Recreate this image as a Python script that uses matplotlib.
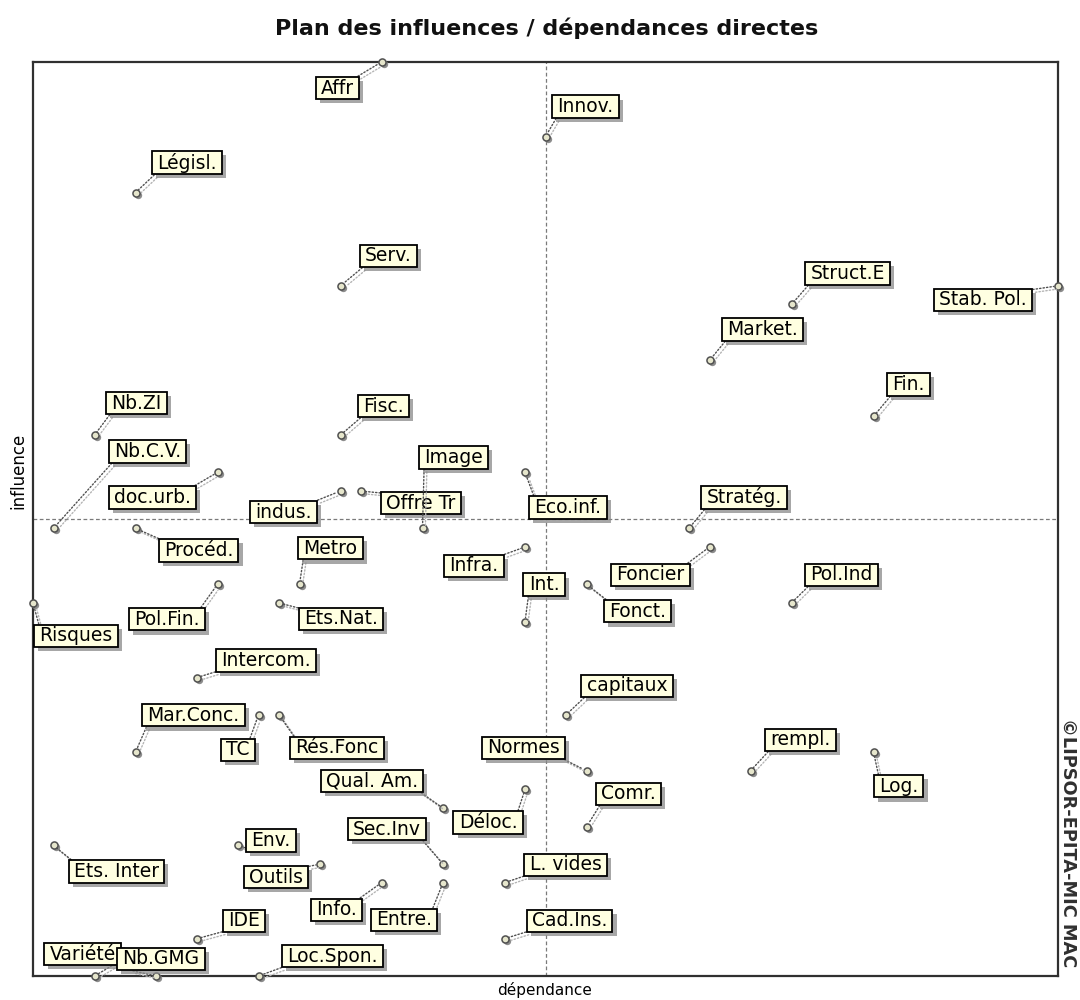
import matplotlib
matplotlib.use("Agg")
import matplotlib.pyplot as plt
import matplotlib.patheffects as pe
from matplotlib.path import Path
from matplotlib.transforms import offset_copy

# Variables of the structural analysis (MICMAC, direct matrix)
variables = [
    "Affr", "Innov.", "Législ.", "Serv.", "Struct.E", "Stab. Pol.", "Market.",
    "Fin.", "Nb.ZI", "Fisc.", "Nb.C.V.", "doc.urb.", "Procéd.", "Risques",
    "Pol.Fin.", "indus.", "Offre Tr", "Image", "Eco.inf.", "Stratég.", "Infra.",
    "Metro", "Ets.Nat.", "Int.", "Foncier", "Fonct.", "Pol.Ind", "Intercom.",
    "capitaux", "Mar.Conc.", "TC", "Rés.Fonc", "Normes", "rempl.", "Log.",
    "Qual. Am.", "Comr.", "Déloc.", "Sec.Inv", "Env.", "Outils", "Ets. Inter",
    "L. vides", "Info.", "Entre.", "IDE", "Cad.Ins.", "Variété", "Nb.GMG",
    "Loc.Spon.",
]

# Direct dependence (column sums)
dependance = [
    31, 39, 19, 29, 51, 64, 47,
    55, 17, 29, 15, 23, 19, 14,
    23, 29, 30, 33, 38, 46, 38,
    27, 26, 38, 47, 41, 51, 22,
    40, 19, 25, 26, 41, 49, 55,
    34, 41, 38, 34, 24, 28, 15,
    37, 31, 34, 22, 37, 17, 20,
    25,
]

# Direct influence (row sums)
influence = [
    63, 59, 56, 51, 50, 51, 47,
    44, 43, 43, 38, 41, 38, 34,
    35, 40, 40, 38, 41, 38, 37,
    35, 34, 33, 37, 35, 34, 30,
    28, 26, 28, 28, 25, 25, 26,
    23, 22, 24, 20, 21, 20, 21,
    19, 19, 19, 16, 16, 14, 14,
    14,
]

# Label placement relative to each point (pixels, x right / y up)
label_dx = [
    -44, 40, 51, 48, 56, -75, 53,
    35, 42, 43, 94, -65, 63, 43,
    -51, -57, 60, 31, 43, 55, -51,
    31, 62, 19, -59, 51, 50, 69,
    61, 58, -21, 58, -63, 50, 25,
    -71, 42, -37, -56, 33, -44, 63,
    61, -45, -39, 47, 65, -12, 5,
    74,
]
label_dy = [
    -26, 30, 30, 30, 31, -14, 31,
    32, 32, 29, 77, -25, -22, -33,
    -35, -21, -12, 71, -35, 31, -19,
    36, -16, 37, -28, -27, 28, 17,
    29, 37, -35, -33, 23, 31, -34,
    27, 33, -33, 35, 5, -13, -26,
    18, -27, -37, 18, 18, 22, 17,
    20,
]

W, H, DPI = 1080, 1000, 100
fig = plt.figure(figsize=(W / DPI, H / DPI), dpi=DPI)
fig.patch.set_facecolor("white")

left, right, top, bottom = 33, 1058, 62, 976
ax = fig.add_axes([left / W, 1 - bottom / H, (right - left) / W, (bottom - top) / H])

xmin, xmax = min(dependance), max(dependance)
ymin, ymax = min(influence), max(influence)
ax.set_xlim(xmin, xmax)
ax.set_ylim(ymin, ymax)
ax.set_xticks([])
ax.set_yticks([])
for sp in ax.spines.values():
    sp.set_linewidth(1.6)
    sp.set_color("#303030")

# Quadrant separators
xmid = (xmin + xmax) / 2
ymid = (ymin + ymax) / 2
ax.axvline(xmid, color="#7a7a7a", lw=0.9, dashes=(3, 2), zorder=1)
ax.axhline(ymid, color="#7a7a7a", lw=0.9, dashes=(3, 2), zorder=1)

# Points with a small drop shadow
shadow_tr = offset_copy(ax.transData, fig=fig, x=2, y=-2, units="dots")
ax.scatter(dependance, influence, s=28, color="#8c8c8c", linewidths=0,
           transform=shadow_tr, zorder=3, clip_on=False)
ax.scatter(dependance, influence, s=26, facecolor="#e6e6cc", edgecolor="#505050",
           linewidths=1.1, zorder=4, clip_on=False)


def label_box(x0, y0, width, height, mutation_size):
    padx = 0.28 * mutation_size
    pady = 0.09 * mutation_size
    x0, y0 = x0 - padx, y0 - pady
    x1, y1 = x0 + width + 2 * padx, y0 + height + 2 * pady
    return Path([(x0, y0), (x1, y0), (x1, y1), (x0, y1), (x0, y0)], closed=True)


for name, x, y, dx, dy in zip(variables, dependance, influence, label_dx, label_dy):
    relpos = (0.0 if dx > 0 else 1.0, 0.0 if dy > 0 else 1.0)
    ann = ax.annotate(
        name, xy=(x, y), xytext=(dx, dy), textcoords="offset pixels",
        ha="center", va="center", fontsize=13.5, family="DejaVu Sans",
        color="black", zorder=6, annotation_clip=False,
        bbox=dict(boxstyle=label_box, facecolor="#ffffe1", edgecolor="black",
                  linewidth=1.3),
        arrowprops=dict(arrowstyle="-", color="#505050", lw=1.0,
                        linestyle=(0, (1, 1.5)), shrinkA=0, shrinkB=3,
                        relpos=relpos),
    )
    ann.get_bbox_patch().set_path_effects([
        pe.SimplePatchShadow(offset=(3, -3), shadow_rgbFace="#8a8a8a", alpha=0.75),
        pe.Normal(),
    ])
    ann.arrow_patch.set_path_effects([
        pe.SimpleLineShadow(offset=(2, -2), shadow_color="#b4b4b4", alpha=1.0),
        pe.Normal(),
    ])

fig.text(547 / W, 1 - 28 / H, "Plan des influences / dépendances directes",
         ha="center", va="center", fontsize=16, fontweight="bold",
         family="DejaVu Sans", color="#111111")
fig.text(545 / W, 1 - 990 / H, "dépendance", ha="center", va="center",
         fontsize=11, family="DejaVu Sans")
fig.text(18 / W, 1 - 471 / H, "influence", ha="center", va="center",
         rotation=90, fontsize=12, family="DejaVu Sans")
fig.text(1068 / W, 1 - 843 / H, "©LIPSOR-EPITA-MIC MAC", ha="center", va="center",
         rotation=270, fontsize=12.8, fontweight="bold", family="DejaVu Sans",
         color="#303030")

fig.savefig("out.png", dpi=DPI)
